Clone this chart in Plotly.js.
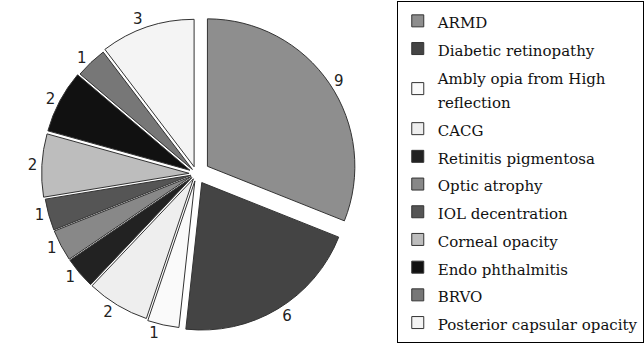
<!DOCTYPE html>
<html><head><meta charset="utf-8">
<script src="https://cdn.plot.ly/plotly-3.0.1.min.js"></script>
<style>body{margin:0;background:#fff}#c{width:644px;height:343px}</style>
</head><body><div id="c"></div>
<script>
const labels = ["ARMD","Diabetic retinopathy","Ambly opia from High<br>reflection","CACG","Retinitis pigmentosa","Optic atrophy","IOL decentration","Corneal opacity","Endo phthalmitis","BRVO","Posterior capsular opacity"];
const values = [9,6,1,2,1,1,1,2,2,1,3];
const colors = ["#8e8e8e","#444444","#fafafa","#eeeeee","#222222","#888888","#555555","#bdbdbd","#111111","#777777","#f4f4f4"];
const pulls = [0.09,0.07,0.05,0.04,0.04,0.04,0.04,0.05,0.05,0.04,0.05];

const legendLabels = labels.map(l => l.split('<br>').map(p => '<span style="font-size:15px">' + p + '</span>').join('<br>'));

Plotly.newPlot('c', [{
  type:'pie', labels:legendLabels, values:values, sort:false, direction:'clockwise', rotation:0,
  marker:{colors:colors, line:{color:'#333', width:1}},
  pull:pulls, textinfo:'value', textposition:'outside',
  textfont:{family:'DejaVu Sans', size:15, color:'#222'},
  domain:{x:[0.042,0.570], y:[0.025,0.962]}, hoverinfo:'none'
}], {
  width:644, height:343, margin:{l:0,r:0,t:0,b:0},
  paper_bgcolor:'#fff', showlegend:true,
  legend:{x:0.618, xanchor:'left', y:0.962, yanchor:'top', bordercolor:'#000', borderwidth:1,
    font:{family:'DejaVu Serif', size:19, color:'#111'}, itemwidth:30, traceorder:'normal'}
}, {displayModeBar:false, staticPlot:true});
</script></body></html>
